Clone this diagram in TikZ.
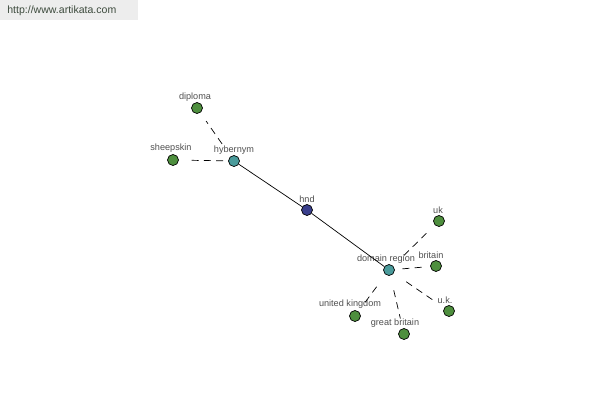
\documentclass[tikz,border=0pt]{standalone}
\usepackage{fontspec}
\setmainfont{Liberation Sans}
\usetikzlibrary{positioning}

\begin{document}
\begin{tikzpicture}[x=0.02cm,y=-0.02cm,
    leaf/.style={circle,draw=black,fill=leafgreen,inner sep=0pt,minimum size=0.22cm},
    hub/.style={circle,draw=black,fill=hubteal,inner sep=0pt,minimum size=0.22cm},
    root/.style={circle,draw=black,fill=rootblue,inner sep=0pt,minimum size=0.22cm},
    lbl/.style={text=labelgray,font=\fontsize{5.2}{6}\selectfont,inner sep=0pt},
    weak/.style={dashed,dash pattern=on 4pt off 3pt,thin,shorten <=0.3cm,shorten >=0.2cm}]
    \definecolor{leafgreen}{HTML}{4E8F3E}
    \definecolor{hubteal}{HTML}{4A9B9B}
    \definecolor{rootblue}{HTML}{3A3F8C}
    \definecolor{labelgray}{HTML}{505050}
    \definecolor{urlgray}{HTML}{3C4A3C}

    % Define the frame
    \useasboundingbox (0,0) rectangle (600,400);
    \fill[white] (0,0) rectangle (600,400);
    \fill[black!7] (0,0) rectangle (138,20);
    \node[text=urlgray,font=\fontsize{6}{7}\selectfont,anchor=west,inner sep=0pt] (url) at (7,11) {http://www.artikata.com};

    % Draw the nodes
    \node[root] (hnd) at (307,210) {};
    \node[hub] (hyb) at (234,161) {};
    \node[hub] (dom) at (389,270) {};
    \node[leaf] (dip) at (197,108) {};
    \node[leaf] (shp) at (173,160) {};
    \node[leaf] (uk) at (439,221) {};
    \node[leaf] (brt) at (436,266) {};
    \node[leaf] (ukd) at (449,311) {};
    \node[leaf] (unk) at (355,316) {};
    \node[leaf] (grb) at (404,334) {};

    % Label the nodes
    \node[lbl] (hndlbl) at (307,199) {hnd};
    \node[lbl] (hyblbl) at (234,150) {hybernym};
    \node[lbl] (domlbl) at (386,259) {domain region};
    \node[lbl] (diplbl) at (195,97) {diploma};
    \node[lbl] (shplbl) at (171,148) {sheepskin};
    \node[lbl] (uklbl) at (438,210) {uk};
    \node[lbl] (brtlbl) at (431,255) {britain};
    \node[lbl] (ukdlbl) at (445,300) {u.k.};
    \node[lbl] (unklbl) at (350,304) {united kingdom};
    \node[lbl] (grblbl) at (395,323) {great britain};

    % Draw the links
    \draw[thin] (hnd) -- (hyb);
    \draw[thin] (hnd) -- (dom);
    \draw[weak] (hyb) -- (dip);
    \draw[weak,shorten <=0.1cm] (hyb) -- (shp);
    \draw[weak] (dom) -- (uk);
    \draw[weak,shorten <=0.15cm,shorten >=0.1cm] (dom) -- (brt);
    \draw[weak] (dom) -- (ukd);
    \draw[weak] (dom) -- (unk);
    \draw[weak] (dom) -- (grb);
\end{tikzpicture}
\end{document}
